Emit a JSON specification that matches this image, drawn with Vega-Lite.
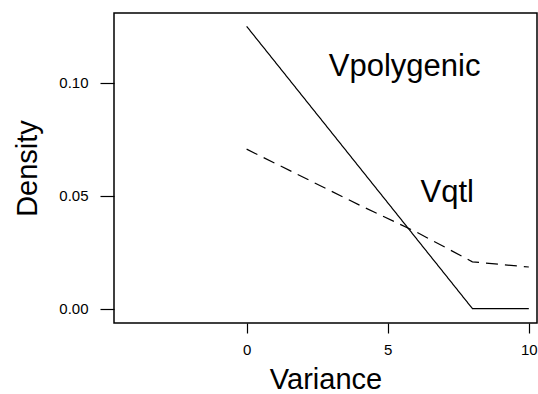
{
  "$schema": "https://vega.github.io/schema/vega-lite/v6.json",
  "width": 423,
  "height": 310,
  "autosize": {"type": "none"},
  "padding": {"left": 114, "top": 13, "right": 1, "bottom": 71},
  "background": "white",
  "config": {
    "view": {"stroke": "black", "strokeWidth": 1.5},
    "axis": {
      "grid": false,
      "domain": false,
      "tickColor": "black",
      "tickWidth": 1.2,
      "labelColor": "black",
      "titleColor": "black",
      "labelFont": "Liberation Sans",
      "titleFont": "Liberation Sans",
      "labelFontSize": 15,
      "titleFontSize": 29,
      "titleFontWeight": "normal"
    }
  },
  "layer": [
    {
      "data": {
        "values": [
          {"series": "Vpolygenic", "variance": 0, "density": 0.125},
          {"series": "Vpolygenic", "variance": 8, "density": 0},
          {"series": "Vpolygenic", "variance": 10, "density": 0},
          {"series": "Vqtl", "variance": 0, "density": 0.0706},
          {"series": "Vqtl", "variance": 4, "density": 0.0458},
          {"series": "Vqtl", "variance": 6, "density": 0.0340},
          {"series": "Vqtl", "variance": 8, "density": 0.0207},
          {"series": "Vqtl", "variance": 10, "density": 0.0184}
        ]
      },
      "mark": {"type": "line", "color": "black", "strokeWidth": 1.2},
      "encoding": {
        "x": {
          "field": "variance",
          "type": "quantitative",
          "scale": {"domain": [-4.7, 10.29], "nice": false, "zero": false},
          "axis": {
            "values": [0, 5, 10],
            "title": "Variance",
            "tickSize": 10,
            "labelPadding": 9,
            "titleBaseline": "alphabetic",
            "titleAlign": "center",
            "titleX": 211.5,
            "titleY": 65
          }
        },
        "y": {
          "field": "density",
          "type": "quantitative",
          "scale": {"domain": [-0.0064, 0.1309], "nice": false, "zero": false},
          "axis": {
            "values": [0, 0.05, 0.1],
            "format": ".2f",
            "title": "Density",
            "tickSize": 14,
            "labelPadding": 12,
            "titleAngle": -90,
            "titleAlign": "center",
            "titleBaseline": "alphabetic",
            "titleX": -78,
            "titleY": 155
          }
        },
        "strokeDash": {
          "field": "series",
          "type": "nominal",
          "scale": {"domain": ["Vpolygenic", "Vqtl"], "range": [[1, 0], [12, 7]]},
          "legend": null
        }
      }
    },
    {
      "data": {
        "values": [
          {"label": "Vpolygenic", "variance": 5.6, "density": 0.103},
          {"label": "Vqtl", "variance": 7.11, "density": 0.0473}
        ]
      },
      "mark": {"type": "text", "font": "Liberation Sans", "fontSize": 31, "color": "black", "align": "center", "baseline": "alphabetic"},
      "encoding": {
        "x": {"field": "variance", "type": "quantitative"},
        "y": {"field": "density", "type": "quantitative"},
        "text": {"field": "label", "type": "nominal"}
      }
    }
  ]
}
